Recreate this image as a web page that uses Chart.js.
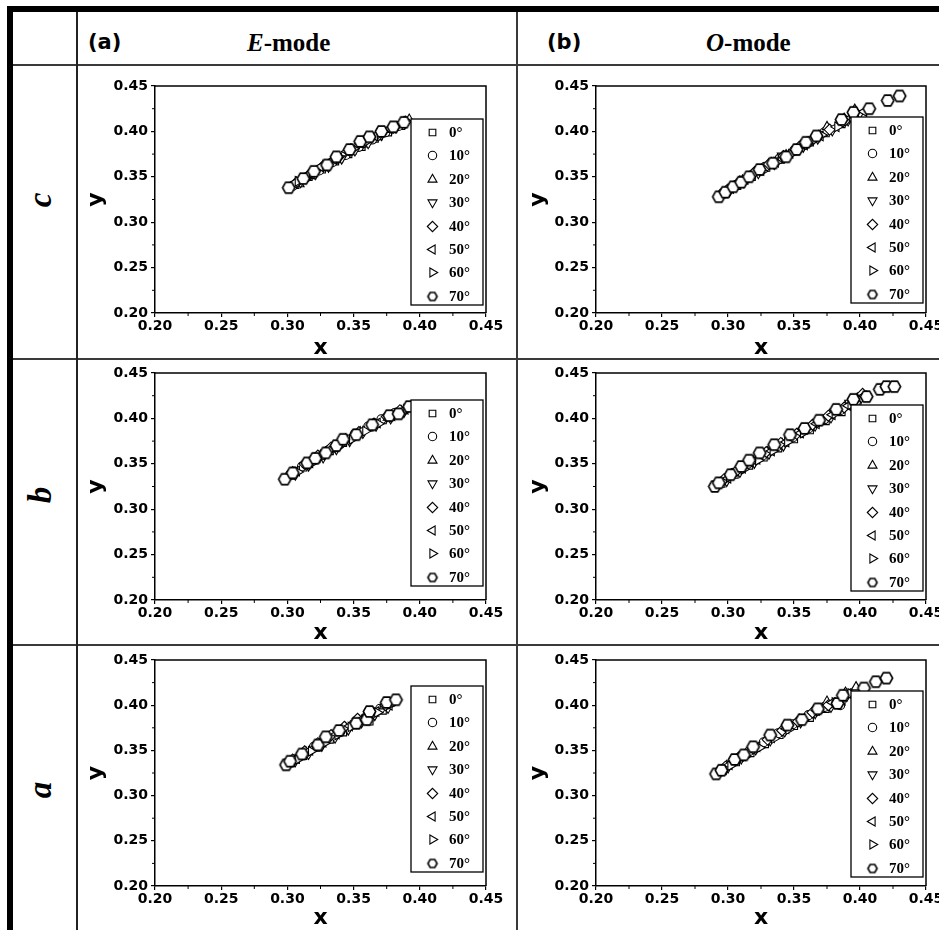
<!DOCTYPE html>
<html>
<head>
<meta charset="utf-8">
<script src="https://cdn.jsdelivr.net/npm/chart.js@4.4.1/dist/chart.umd.min.js"></script>
<style>
  body { margin: 0; background: #fff; }
  #page { position: relative; width: 939px; height: 930px; overflow: hidden; background: #fff; }
  .ln { position: absolute; background: #3a3a3a; }
  .txt { position: absolute; line-height: 1; white-space: nowrap; color: #000; transform: translateY(-50%); }
  .sans { font-family: "DejaVu Sans", sans-serif; font-weight: bold; font-size: 21px; }
  .serif { font-family: "Liberation Serif", serif; font-weight: bold; font-size: 25px; }
  .row { position: absolute; font-family: "Liberation Serif", serif; font-weight: bold; font-style: italic;
         font-size: 33px; line-height: 1; transform: translate(-50%, -50%) rotate(-90deg); }
  canvas { position: absolute; }
</style>
</head>
<body>
<div id="page">
  <div class="ln" style="left:7px;top:6px;width:940px;height:6px;background:#000"></div>
  <div class="ln" style="left:7px;top:6px;width:6px;height:930px;background:#000"></div>
  <div class="ln" style="left:13px;top:64px;width:930px;height:2px"></div>
  <div class="ln" style="left:13px;top:358px;width:930px;height:2px"></div>
  <div class="ln" style="left:13px;top:644px;width:930px;height:2px"></div>
  <div class="ln" style="left:76px;top:12px;width:1.5px;height:920px;background:#222"></div>
  <div class="ln" style="left:516px;top:12px;width:2px;height:920px"></div>

  <span class="txt sans" style="left:88px;top:42px">(a)</span>
  <span class="txt serif" style="left:247px;top:42px"><i>E</i>-mode</span>
  <span class="txt sans" style="left:547px;top:42px">(b)</span>
  <span class="txt serif" style="left:706px;top:42px"><i>O</i>-mode</span>

  <span class="row" style="left:40px;top:200px">c</span>
  <span class="row" style="left:40px;top:495px">b</span>
  <span class="row" style="left:40px;top:790px">a</span>
</div>

<script>
// angles of the series (legend)
const angles = ['0', '10', '20', '30', '40', '50', '60', '70'];
const xTicks = [0.20, 0.25, 0.30, 0.35, 0.40, 0.45];
const yTicks = [0.20, 0.25, 0.30, 0.35, 0.40, 0.45];

// row c, E-mode : one list of [x, y] per angle
const cE = [
  [[0.306,0.341],[0.316,0.350],[0.326,0.358],[0.336,0.367],[0.346,0.375],[0.356,0.383],[0.366,0.392],[0.376,0.399],[0.386,0.406]],
  [[0.304,0.340],[0.314,0.349],[0.324,0.357],[0.334,0.366],[0.344,0.374],[0.354,0.383],[0.364,0.391],[0.374,0.399],[0.384,0.406]],
  [[0.309,0.342],[0.318,0.351],[0.328,0.360],[0.338,0.369],[0.348,0.378],[0.358,0.386],[0.368,0.394],[0.378,0.402],[0.392,0.413]],
  [[0.310,0.344],[0.321,0.353],[0.331,0.361],[0.341,0.370],[0.351,0.379],[0.361,0.387],[0.371,0.396],[0.382,0.404]],
  [[0.307,0.344],[0.317,0.353],[0.327,0.362],[0.338,0.371],[0.348,0.380],[0.358,0.388],[0.369,0.396],[0.380,0.404],[0.389,0.411]],
  [[0.305,0.343],[0.315,0.352],[0.325,0.361],[0.335,0.369],[0.345,0.378],[0.355,0.387],[0.366,0.395],[0.377,0.403],[0.387,0.409]],
  [[0.308,0.345],[0.319,0.354],[0.329,0.363],[0.339,0.372],[0.350,0.381],[0.360,0.389],[0.370,0.397],[0.381,0.405],[0.390,0.411]],
  [[0.301,0.338],[0.312,0.348],[0.320,0.356],[0.330,0.363],[0.337,0.372],[0.347,0.380],[0.355,0.389],[0.362,0.394],[0.371,0.400],[0.380,0.405],[0.388,0.410]]
];

// row c, O-mode
const cO = [
  [[0.297,0.331],[0.307,0.340],[0.318,0.350],[0.329,0.360],[0.340,0.369],[0.351,0.378],[0.362,0.388],[0.374,0.398],[0.386,0.408],[0.398,0.418]],
  [[0.296,0.332],[0.306,0.341],[0.317,0.351],[0.328,0.361],[0.339,0.370],[0.350,0.379],[0.361,0.389],[0.373,0.399],[0.385,0.409],[0.397,0.419]],
  [[0.300,0.336],[0.311,0.346],[0.322,0.355],[0.333,0.365],[0.344,0.374],[0.355,0.384],[0.366,0.394],[0.375,0.405],[0.388,0.414],[0.396,0.424]],
  [[0.301,0.334],[0.312,0.344],[0.323,0.354],[0.335,0.364],[0.341,0.373],[0.357,0.383],[0.368,0.392],[0.379,0.401],[0.391,0.412],[0.400,0.420]],
  [[0.299,0.335],[0.309,0.345],[0.320,0.355],[0.331,0.364],[0.342,0.373],[0.354,0.383],[0.365,0.392],[0.377,0.402],[0.389,0.412]],
  [[0.302,0.337],[0.313,0.347],[0.325,0.357],[0.336,0.366],[0.347,0.376],[0.358,0.385],[0.370,0.395],[0.382,0.405],[0.393,0.415],[0.403,0.422]],
  [[0.303,0.336],[0.314,0.346],[0.326,0.356],[0.337,0.366],[0.348,0.375],[0.360,0.385],[0.371,0.396],[0.383,0.405],[0.394,0.416]],
  [[0.293,0.328],[0.298,0.333],[0.304,0.339],[0.310,0.344],[0.316,0.350],[0.324,0.358],[0.334,0.365],[0.344,0.372],[0.352,0.380],[0.359,0.388],[0.367,0.395],[0.386,0.413],[0.395,0.421],[0.407,0.425],[0.421,0.434],[0.430,0.439]]
];

// row b, E-mode
const bE = [
  [[0.303,0.337],[0.312,0.346],[0.322,0.355],[0.332,0.364],[0.342,0.373],[0.352,0.382],[0.362,0.390],[0.372,0.398],[0.382,0.404]],
  [[0.302,0.338],[0.311,0.347],[0.321,0.357],[0.331,0.365],[0.341,0.374],[0.351,0.383],[0.361,0.391],[0.371,0.399],[0.381,0.406]],
  [[0.305,0.340],[0.315,0.349],[0.325,0.359],[0.335,0.367],[0.345,0.376],[0.355,0.385],[0.366,0.394],[0.376,0.401],[0.386,0.408]],
  [[0.306,0.338],[0.316,0.348],[0.327,0.357],[0.337,0.366],[0.347,0.375],[0.357,0.384],[0.367,0.392],[0.378,0.400],[0.388,0.407]],
  [[0.304,0.341],[0.313,0.350],[0.323,0.359],[0.333,0.368],[0.344,0.377],[0.354,0.385],[0.365,0.394],[0.375,0.402],[0.385,0.409]],
  [[0.307,0.342],[0.317,0.351],[0.326,0.360],[0.336,0.369],[0.346,0.378],[0.356,0.386],[0.368,0.395],[0.379,0.403],[0.389,0.410]],
  [[0.308,0.341],[0.318,0.350],[0.328,0.359],[0.338,0.368],[0.349,0.377],[0.359,0.386],[0.369,0.394],[0.380,0.402],[0.390,0.410]],
  [[0.298,0.333],[0.304,0.340],[0.315,0.351],[0.321,0.356],[0.329,0.362],[0.337,0.370],[0.342,0.377],[0.352,0.382],[0.364,0.393],[0.377,0.403],[0.384,0.405],[0.392,0.413]]
];

// row b, O-mode
const bO = [
  [[0.295,0.328],[0.305,0.338],[0.316,0.348],[0.327,0.357],[0.338,0.367],[0.350,0.377],[0.362,0.387],[0.374,0.397],[0.386,0.407],[0.398,0.417]],
  [[0.294,0.330],[0.304,0.340],[0.315,0.350],[0.326,0.359],[0.337,0.369],[0.349,0.379],[0.361,0.389],[0.373,0.399],[0.385,0.409],[0.397,0.419]],
  [[0.298,0.333],[0.308,0.343],[0.319,0.353],[0.330,0.363],[0.341,0.372],[0.353,0.383],[0.365,0.393],[0.377,0.404],[0.389,0.413],[0.398,0.422]],
  [[0.299,0.331],[0.309,0.341],[0.320,0.351],[0.331,0.361],[0.342,0.370],[0.356,0.385],[0.366,0.392],[0.378,0.401],[0.392,0.417],[0.401,0.423]],
  [[0.297,0.333],[0.307,0.343],[0.318,0.353],[0.329,0.363],[0.340,0.373],[0.352,0.383],[0.364,0.393],[0.376,0.403],[0.388,0.412],[0.402,0.427]],
  [[0.300,0.334],[0.311,0.345],[0.322,0.355],[0.333,0.364],[0.344,0.374],[0.355,0.384],[0.367,0.394],[0.379,0.404],[0.391,0.414],[0.403,0.425]],
  [[0.301,0.335],[0.312,0.344],[0.323,0.354],[0.334,0.364],[0.345,0.374],[0.357,0.384],[0.369,0.395],[0.381,0.405],[0.393,0.415]],
  [[0.290,0.325],[0.293,0.329],[0.302,0.338],[0.310,0.347],[0.316,0.354],[0.324,0.362],[0.335,0.371],[0.347,0.382],[0.358,0.389],[0.369,0.398],[0.382,0.410],[0.395,0.421],[0.405,0.424],[0.415,0.432],[0.420,0.435],[0.426,0.435]]
];

// row a, E-mode
const aE = [
  [[0.303,0.336],[0.312,0.344],[0.322,0.353],[0.332,0.362],[0.342,0.370],[0.352,0.378],[0.362,0.382],[0.372,0.394]],
  [[0.301,0.337],[0.310,0.345],[0.320,0.354],[0.330,0.363],[0.340,0.371],[0.350,0.379],[0.360,0.388],[0.370,0.396],[0.379,0.403]],
  [[0.305,0.339],[0.314,0.348],[0.324,0.357],[0.334,0.366],[0.344,0.375],[0.354,0.383],[0.364,0.391],[0.373,0.399]],
  [[0.306,0.338],[0.316,0.346],[0.326,0.355],[0.336,0.364],[0.346,0.373],[0.356,0.381],[0.366,0.389],[0.376,0.397]],
  [[0.304,0.340],[0.313,0.349],[0.323,0.358],[0.333,0.367],[0.343,0.376],[0.353,0.385],[0.363,0.392],[0.374,0.400]],
  [[0.307,0.341],[0.317,0.350],[0.327,0.359],[0.337,0.368],[0.347,0.377],[0.357,0.385],[0.367,0.393],[0.377,0.400]],
  [[0.308,0.340],[0.318,0.349],[0.328,0.358],[0.338,0.367],[0.348,0.376],[0.358,0.384],[0.368,0.392],[0.378,0.401]],
  [[0.299,0.334],[0.302,0.338],[0.311,0.346],[0.323,0.356],[0.329,0.365],[0.339,0.372],[0.352,0.380],[0.360,0.384],[0.362,0.393],[0.375,0.403],[0.382,0.406]]
];

// row a, O-mode
const aO = [
  [[0.296,0.327],[0.306,0.337],[0.317,0.347],[0.328,0.357],[0.339,0.367],[0.350,0.377],[0.362,0.386],[0.374,0.396],[0.386,0.404],[0.398,0.414]],
  [[0.295,0.329],[0.305,0.339],[0.316,0.349],[0.327,0.359],[0.338,0.369],[0.349,0.379],[0.361,0.389],[0.373,0.398],[0.385,0.400],[0.397,0.416]],
  [[0.299,0.333],[0.309,0.343],[0.320,0.353],[0.331,0.363],[0.342,0.373],[0.354,0.384],[0.365,0.394],[0.375,0.404],[0.389,0.414],[0.397,0.420]],
  [[0.300,0.331],[0.310,0.341],[0.321,0.351],[0.332,0.361],[0.343,0.371],[0.355,0.381],[0.366,0.391],[0.378,0.398],[0.390,0.410]],
  [[0.298,0.332],[0.308,0.342],[0.319,0.352],[0.330,0.362],[0.341,0.372],[0.353,0.382],[0.364,0.392],[0.376,0.400],[0.388,0.411]],
  [[0.301,0.334],[0.311,0.344],[0.322,0.354],[0.333,0.364],[0.344,0.374],[0.356,0.385],[0.367,0.394],[0.379,0.403],[0.391,0.413]],
  [[0.302,0.333],[0.313,0.343],[0.324,0.353],[0.335,0.363],[0.346,0.373],[0.357,0.383],[0.369,0.393],[0.381,0.403],[0.393,0.413]],
  [[0.291,0.324],[0.295,0.328],[0.305,0.340],[0.312,0.345],[0.319,0.354],[0.332,0.367],[0.345,0.378],[0.356,0.384],[0.368,0.396],[0.383,0.402],[0.387,0.411],[0.403,0.419],[0.412,0.426],[0.420,0.430]]
];

// hexagon marker for 70 deg
function makeHex(r) {
  var c = document.createElement('canvas');
  var s = Math.ceil(r * 2 + 4);
  c.width = s; c.height = s;
  var g = c.getContext('2d');
  g.beginPath();
  for (var k = 0; k < 6; k++) {
    var a = Math.PI / 3 * k;
    var px = s / 2 + r * Math.cos(a), py = s / 2 + r * Math.sin(a);
    if (k == 0) g.moveTo(px, py); else g.lineTo(px, py);
  }
  g.closePath();
  g.fillStyle = '#fff'; g.fill();
  g.lineWidth = 1.6; g.strokeStyle = '#000'; g.stroke();
  return c;
}
var hex = makeHex(6.2);
var hexSmall = makeHex(4.6);

var styles = ['rect', 'circle', 'triangle', 'triangle', 'rectRot', 'triangle', 'triangle', hex];
var rotations = [0, 0, 0, 180, 0, 270, 90, 0];
var radii = [5, 4.5, 5.5, 5.5, 5.5, 5.5, 5.5, 6];

var tickFont = { family: 'DejaVu Sans', weight: 'bold', size: 14 };
var titleFont = { family: 'DejaVu Sans', weight: 'bold', size: 22, lineHeight: 1 };

// legend box drawn inside the plot area
var boxLegend = {
  id: 'boxLegend',
  afterDatasetsDraw: function (chart, args, opts) {
    var ctx = chart.ctx, area = chart.chartArea;
    var w = 72, h = 186;
    var right = area.right - 3, bottom = area.bottom - opts.gap;
    var left = right - w, top = bottom - h;
    ctx.save();
    ctx.fillStyle = '#fff';
    ctx.fillRect(left, top, w, h);
    ctx.strokeStyle = '#000';
    ctx.lineWidth = 1.3;
    ctx.strokeRect(left, top, w, h);
    chart.data.datasets.forEach(function (ds, i) {
      var y = Math.round(top + 13 + i * 23.4);
      var style = ds.pointStyle === hex ? hexSmall : ds.pointStyle;
      ctx.fillStyle = '#fff';
      ctx.strokeStyle = '#000';
      ctx.lineWidth = 1.1;
      Chart.helpers.drawPoint(ctx, { pointStyle: style, rotation: ds.rotation, radius: ds.pointRadius - 0.3, borderWidth: 1.1 }, Math.round(left + 21) + 0.5, y + 0.5);
      ctx.fillStyle = '#000';
      ctx.font = 'bold 15px "Liberation Serif"';
      ctx.textBaseline = 'middle';
      ctx.textAlign = 'left';
      ctx.fillText(ds.label, left + 38, y + 1);
    });
    ctx.restore();
  }
};

// top/right frame and minor ticks
var frame = {
  id: 'frame',
  afterDraw: function (chart) {
    var ctx = chart.ctx, a = chart.chartArea, sx = chart.scales.x, sy = chart.scales.y;
    ctx.save();
    ctx.strokeStyle = '#000';
    ctx.lineWidth = 1.5;
    ctx.beginPath();
    ctx.moveTo(a.left, a.top);
    ctx.lineTo(a.right, a.top);
    ctx.lineTo(a.right, a.bottom);
    ctx.stroke();
    ctx.lineWidth = 1;
    ctx.beginPath();
    for (var k = 0; k < xTicks.length - 1; k++) {
      var mx = sx.getPixelForValue((xTicks[k] + xTicks[k + 1]) / 2);
      ctx.moveTo(mx, a.bottom);
      ctx.lineTo(mx, a.bottom + 3);
    }
    for (var k = 0; k < yTicks.length - 1; k++) {
      var my = sy.getPixelForValue((yTicks[k] + yTicks[k + 1]) / 2);
      ctx.moveTo(a.left, my);
      ctx.lineTo(a.left - 3, my);
    }
    ctx.stroke();
    ctx.restore();
  }
};

var panels = [
  { data: cE, left: 80,  top: 66,  width: 436, height: 293, plotLeft: 155, plotRight: 486, plotTop: 86,  plotBottom: 313, gap: 8 },
  { data: cO, left: 522, top: 66,  width: 440, height: 293, plotLeft: 596, plotRight: 926, plotTop: 86,  plotBottom: 313, gap: 10 },
  { data: bE, left: 80,  top: 353, width: 436, height: 291, plotLeft: 155, plotRight: 486, plotTop: 373, plotBottom: 600, gap: 14 },
  { data: bO, left: 522, top: 353, width: 440, height: 291, plotLeft: 596, plotRight: 926, plotTop: 373, plotBottom: 600, gap: 9 },
  { data: aE, left: 80,  top: 640, width: 436, height: 289, plotLeft: 155, plotRight: 486, plotTop: 660, plotBottom: 886, gap: 14 },
  { data: aO, left: 522, top: 640, width: 440, height: 289, plotLeft: 596, plotRight: 926, plotTop: 660, plotBottom: 886, gap: 9 }
];

var page = document.getElementById('page');

panels.forEach(function (p) {
  var cv = document.createElement('canvas');
  cv.width = p.width;
  cv.height = p.height;
  cv.style.left = p.left + 'px';
  cv.style.top = p.top + 'px';
  cv.style.width = p.width + 'px';
  cv.style.height = p.height + 'px';
  page.appendChild(cv);

  var datasets = p.data.map(function (series, i) {
    return {
      label: angles[i] + '°',
      data: series.map(function (pt) { return { x: pt[0], y: pt[1] }; }),
      pointStyle: styles[i],
      rotation: rotations[i],
      pointRadius: radii[i],
      backgroundColor: '#fff',
      borderColor: '#000',
      borderWidth: 1.1,
      order: 7 - i
    };
  });

  new Chart(cv, {
    type: 'scatter',
    data: { datasets: datasets },
    options: {
      responsive: false,
      animation: false,
      events: [],
      layout: { padding: { top: p.plotTop - p.top, right: p.left + p.width - p.plotRight, left: 0, bottom: 0 } },
      scales: {
        x: {
          type: 'linear', min: 0.2, max: 0.45,
          ticks: { stepSize: 0.05, font: tickFont, color: '#000', padding: 1, maxRotation: 0, autoSkip: false,
                   callback: function (v) { return v.toFixed(2); } },
          grid: { drawOnChartArea: false, tickLength: 4, color: '#000', lineWidth: 1.2 },
          border: { color: '#000', width: 1.5 },
          title: { display: true, text: 'x', font: titleFont, color: '#000', padding: { top: 0, bottom: 0 } },
          afterFit: function (s) { s.height = p.top + p.height - p.plotBottom; }
        },
        y: {
          type: 'linear', min: 0.2, max: 0.45,
          ticks: { stepSize: 0.05, font: tickFont, color: '#000', padding: 3,
                   callback: function (v) { return v.toFixed(2); } },
          grid: { drawOnChartArea: false, tickLength: 4, color: '#000', lineWidth: 1.2 },
          border: { color: '#000', width: 1.5 },
          title: { display: true, text: 'y', font: titleFont, color: '#000', padding: { top: 5, bottom: 0 } },
          afterFit: function (s) { s.width = p.plotLeft - p.left; }
        }
      },
      plugins: {
        legend: { display: false },
        tooltip: { enabled: false },
        boxLegend: { gap: p.gap }
      }
    },
    plugins: [boxLegend, frame]
  });
});
</script>
</body>
</html>
